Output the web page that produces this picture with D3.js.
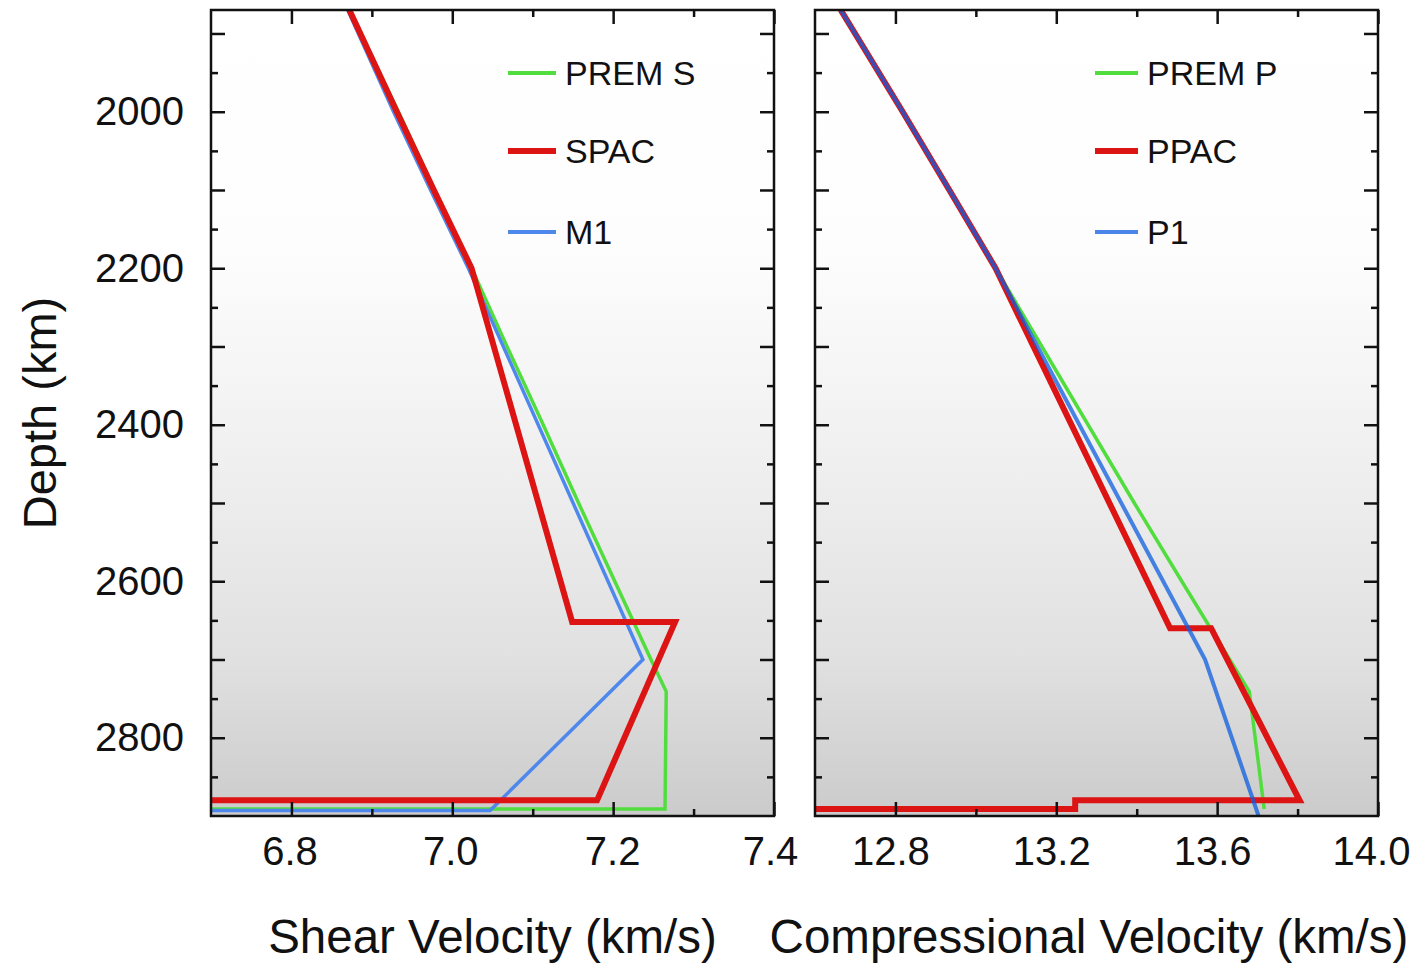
<!DOCTYPE html>
<html><head><meta charset="utf-8">
<script src="https://cdn.jsdelivr.net/npm/d3@7"></script>
<style>
body{margin:0;background:#fff}
svg{display:block}
text{font-family:"Liberation Sans", Arial, Helvetica, sans-serif;}
</style>
</head><body>
<svg id="chart" width="1416" height="965"></svg>
<script>
// ---------------- DATA ----------------
// Left panel: shear velocity (km/s) vs depth (km)
const premS_depth = [1870, 2000, 2100, 2200, 2300, 2400, 2500, 2600, 2700, 2741, 2891, 2891];
const premS_vs    = [6.872, 6.933, 6.978, 7.024, 7.068, 7.113, 7.157, 7.202, 7.247, 7.266, 7.2645, 0];
const spac_depth  = [1870, 2000, 2100, 2200, 2652, 2652, 2880, 2880];
const spac_vs     = [6.872, 6.931, 6.977, 7.024, 7.149, 7.277, 7.180, 0];
const m1_depth    = [1870, 2000, 2100, 2200, 2700, 2893, 2893];
const m1_vs       = [6.870, 6.927, 6.973, 7.020, 7.237, 7.047, 0];

// Right panel: compressional velocity (km/s) vs depth (km)
const premP_depth = [1870, 2000, 2100, 2200, 2300, 2400, 2500, 2600, 2700, 2741, 2891];
const premP_vp    = [12.664, 12.818, 12.934, 13.049, 13.164, 13.279, 13.394, 13.512, 13.631, 13.680, 13.717];
const ppac_depth  = [1870, 2000, 2100, 2200, 2660, 2660, 2880, 2880, 2891, 2891];
const ppac_vp     = [12.664, 12.818, 12.934, 13.049, 13.483, 13.585, 13.805, 13.247, 13.247, 8.06];
const p1_depth    = [1870, 2000, 2100, 2200, 2700, 2900];
const p1_vp       = [12.664, 12.818, 12.934, 13.049, 13.570, 13.703];

// Legends
const legendS = ["PREM S", "SPAC", "M1"];
const legendP = ["PREM P", "PPAC", "P1"];

// Ticks
const depthLabels = [2000, 2200, 2400, 2600, 2800];
const depthMajor  = [1900, 2000, 2100, 2200, 2300, 2400, 2500, 2600, 2700, 2800];
const depthMinor  = [1950, 2050, 2150, 2250, 2350, 2450, 2550, 2650, 2750, 2850];
const shearLabels = [6.8, 7.0, 7.2, 7.4];
const shearMinor  = [6.9, 7.1, 7.3];
const compLabels  = [12.8, 13.2, 13.6, 14.0];
const compMinor   = [13.0, 13.4, 13.8];

// Titles
const yTitle = "Depth (km)";
const xTitleS = "Shear Velocity (km/s)";
const xTitleP = "Compressional Velocity (km/s)";

// ---------------- LAYOUT ----------------
const svg = d3.select("#chart");
const TOP = 10, BOTTOM = 816;
const y  = d3.scaleLinear().domain([1870, 2900]).range([TOP, BOTTOM]);
const xS = d3.scaleLinear().domain([6.7, 7.4]).range([211, 774]);
const xP = d3.scaleLinear().domain([12.6, 14.0]).range([815, 1378]);

const COLORS = {green: "#52dd3f", red: "#dc1414", blue: "#4f88ec"};
const INK = "#111";
const FONT = '"Liberation Sans", Arial, Helvetica, sans-serif';

// background gradient
const defs = svg.append("defs");
const grad = defs.append("linearGradient").attr("id", "bg").attr("x1", 0).attr("y1", 0).attr("x2", 0).attr("y2", 1);
[[0, "#ffffff"], [0.3, "#fdfdfd"], [0.55, "#f0f0f0"], [0.8, "#e1e1e1"], [1, "#cbcbcb"]]
  .forEach(([o, c]) => grad.append("stop").attr("offset", o).attr("stop-color", c));

function zip(ds, vs) { return ds.map((d, i) => ({d: d, v: vs[i]})); }

function panel(id, x, major, minor, series, legend, legendX, yLabels, labelDx) {
  const [x0, x1] = x.range();
  const g = svg.append("g");
  g.append("rect").attr("x", x0).attr("y", TOP).attr("width", x1 - x0).attr("height", BOTTOM - TOP)
    .attr("fill", "url(#bg)");
  defs.append("clipPath").attr("id", "clip" + id).append("rect")
    .attr("x", x0).attr("y", TOP).attr("width", x1 - x0).attr("height", BOTTOM - TOP);

  const line = d3.line().x(p => x(p.v)).y(p => y(p.d));
  const lg = g.append("g").attr("clip-path", `url(#clip${id})`);
  series.forEach(s => {
    lg.append("path").datum(s.data).attr("d", line)
      .attr("fill", "none").attr("stroke", s.color).attr("stroke-width", s.width)
      .attr("stroke-opacity", s.opacity || 1)
      .attr("stroke-linejoin", "miter").attr("stroke-miterlimit", 10);
  });

  // axes (ticks inward on all sides)
  const style = sel => {
    sel.select(".domain").remove();
    sel.selectAll("line").attr("stroke", INK).attr("stroke-width", 2.5);
    sel.selectAll("text").attr("fill", INK).attr("font-size", 40).attr("font-family", FONT);
  };
  const fmt = d3.format(".1f");
  g.append("g").attr("transform", `translate(0,${BOTTOM})`)
    .call(d3.axisBottom(x).tickValues(major).tickSize(-14).tickPadding(21).tickFormat(fmt)).call(style)
    .call(a => a.selectAll("text").attr("dx", (d, i) => labelDx[i]));
  g.append("g").attr("transform", `translate(0,${BOTTOM})`)
    .call(d3.axisBottom(x).tickValues(minor).tickSize(-7).tickFormat("")).call(style);
  g.append("g").attr("transform", `translate(0,${TOP})`)
    .call(d3.axisTop(x).tickValues(major).tickSize(-14).tickFormat("")).call(style);
  g.append("g").attr("transform", `translate(0,${TOP})`)
    .call(d3.axisTop(x).tickValues(minor).tickSize(-7).tickFormat("")).call(style);
  g.append("g").attr("transform", `translate(${x0},0)`)
    .call(d3.axisLeft(y).tickValues(depthMajor).tickSize(-14).tickPadding(27)
      .tickFormat(d => (yLabels && depthLabels.includes(d)) ? d : "")).call(style);
  g.append("g").attr("transform", `translate(${x0},0)`)
    .call(d3.axisLeft(y).tickValues(depthMinor).tickSize(-7).tickFormat("")).call(style);
  g.append("g").attr("transform", `translate(${x1},0)`)
    .call(d3.axisRight(y).tickValues(depthMajor).tickSize(-14).tickFormat("")).call(style);
  g.append("g").attr("transform", `translate(${x1},0)`)
    .call(d3.axisRight(y).tickValues(depthMinor).tickSize(-7).tickFormat("")).call(style);

  g.append("rect").attr("x", x0).attr("y", TOP).attr("width", x1 - x0).attr("height", BOTTOM - TOP)
    .attr("fill", "none").attr("stroke", INK).attr("stroke-width", 2.5);

  // legend
  const rowsY = [73, 151, 232];
  legend.forEach((name, i) => {
    const s = series.find(q => q.name === name);
    g.append("line").attr("x1", legendX[0]).attr("x2", legendX[1]).attr("y1", rowsY[i]).attr("y2", rowsY[i])
      .attr("stroke", s.color).attr("stroke-width", s.legendWidth).attr("stroke-opacity", s.opacity || 1);
    g.append("text").attr("x", legendX[2]).attr("y", rowsY[i]).attr("dy", "0.36em")
      .attr("font-size", 34).attr("fill", INK).text(name);
  });
}

panel("S", xS, shearLabels, shearMinor, [
  {name: "PREM S", data: zip(premS_depth, premS_vs), color: COLORS.green, width: 3.5, legendWidth: 4},
  {name: "M1",     data: zip(m1_depth, m1_vs),       color: COLORS.blue,  width: 3.5, legendWidth: 4},
  {name: "SPAC",   data: zip(spac_depth, spac_vs),   color: COLORS.red,   width: 6,   legendWidth: 6}
], legendS, [508, 556, 565], true, [-2, -2, -1, -4]);

panel("P", xP, compLabels, compMinor, [
  {name: "PREM P", data: zip(premP_depth, premP_vp), color: COLORS.green, width: 3.5, legendWidth: 4},
  {name: "PPAC",   data: zip(ppac_depth, ppac_vp),   color: COLORS.red,   width: 6,   legendWidth: 6},
  {name: "P1",     data: zip(p1_depth, p1_vp),       color: "rgb(14,94,224)", opacity: 0.75, width: 4, legendWidth: 4}
], legendP, [1095, 1138, 1147], false, [-5, -5, -5, -7]);

// axis titles
svg.append("text").attr("x", (xS.range()[0] + xS.range()[1]) / 2).attr("y", 953)
  .attr("text-anchor", "middle").attr("font-size", 47.5).attr("fill", INK).text(xTitleS);
svg.append("text").attr("x", 1089).attr("y", 953)
  .attr("text-anchor", "middle").attr("font-size", 47.5).attr("fill", INK).text(xTitleP);
svg.append("text").attr("transform", `translate(56,${(TOP + BOTTOM) / 2}) rotate(-90)`)
  .attr("text-anchor", "middle").attr("font-size", 47).attr("fill", INK).text(yTitle);
</script>
</body></html>
